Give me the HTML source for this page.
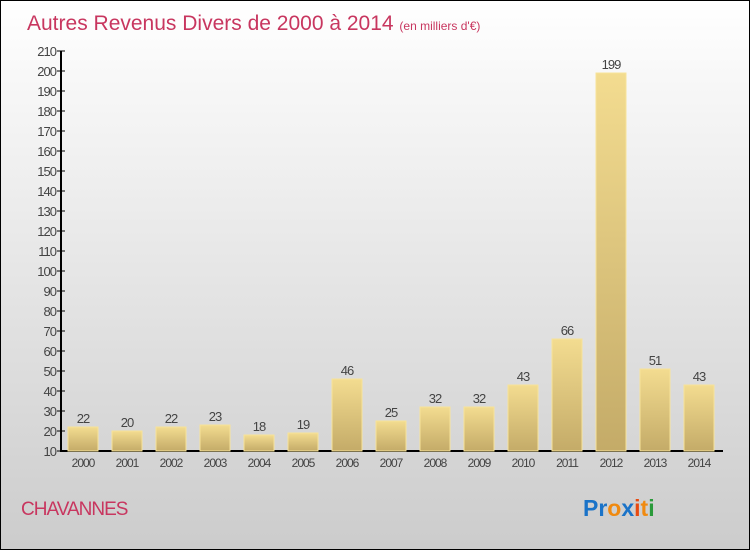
<!DOCTYPE html>
<html><head><meta charset="utf-8"><style>
body{margin:0}
#c{width:748px;height:548px;border:1px solid #000;background:linear-gradient(#fff,#ccc);position:relative;overflow:hidden;font-family:"Liberation Sans",sans-serif}
</style></head><body>
<div id="c">
<svg id="s" width="748" height="548" style="position:absolute;left:0;top:0">
<defs><linearGradient id="g" x1="0" y1="0" x2="0" y2="1"><stop offset="0" stop-color="#f3dc90"/><stop offset="1" stop-color="#c4ab68"/></linearGradient></defs>
<text x="26" y="29" font-size="21" fill="#c8365f">Autres Revenus Divers de 2000 à 2014 <tspan font-size="12">(en milliers d'€)</tspan></text>
<text x="20" y="514" font-size="19" fill="#c8365f" letter-spacing="-1">CHAVANNES</text>
<text x="582" y="515" font-size="23" font-weight="bold"><tspan fill="#1a73c8">Pr</tspan><tspan fill="#f08a10">o</tspan><tspan fill="#1a73c8">x</tspan><tspan fill="#e84a10">i</tspan><tspan fill="#f08a10">t</tspan><tspan fill="#2a9a3a">i</tspan></text>
<g id="ax"></g><g id="bars"></g>
</svg>
</div>
<script>
const categories=["2000","2001","2002","2003","2004","2005","2006","2007","2008","2009","2010","2011","2012","2013","2014"];
const values=[22,20,22,23,18,19,46,25,32,32,43,66,199,51,43];
const yTicks=[10,20,30,40,50,60,70,80,90,100,110,120,130,140,150,160,170,180,190,200,210];
const NS="http://www.w3.org/2000/svg";
const y=v=>450-(v-10)*2;
const x=i=>82+i*44;
function mk(t,a,p){const e=document.createElementNS(NS,t);for(const k in a)e.setAttribute(k,a[k]);p.appendChild(e);return e;}
const ax=document.getElementById('ax'),bg=document.getElementById('bars');
const yl=mk('line',{x1:60,y1:50,x2:60,y2:451,stroke:'#000','stroke-width':2},ax);


const xl=mk('line',{x1:59,y1:450,x2:722,y2:450,stroke:'#000','stroke-width':2},ax);


yTicks.forEach(v=>{
 mk('line',{x1:56,y1:y(v),x2:64,y2:y(v),stroke:'#000'},ax);
 const t=mk('text',{x:55,y:y(v)+5,'text-anchor':'end','font-size':13,fill:'#444','letter-spacing':'-1'},ax);
 t.textContent=v;
 
 
});
categories.forEach((c,i)=>{
 const t=mk('text',{x:x(i),y:466,'text-anchor':'middle','font-size':12,fill:'#444','letter-spacing':'-1'},ax);
 t.textContent=c;
 
 
 const r=mk('rect',{x:x(i)-15,y:y(values[i]),width:30,height:450-y(values[i]),fill:'url(#g)',stroke:'#f7e39a','stroke-width':1},bg);
 
 
 const l=mk('text',{x:x(i),y:y(values[i])-4,'text-anchor':'middle','font-size':13,fill:'#444','letter-spacing':'-1'},bg);
 l.textContent=values[i];
 
 
});
</script>
</body></html>
